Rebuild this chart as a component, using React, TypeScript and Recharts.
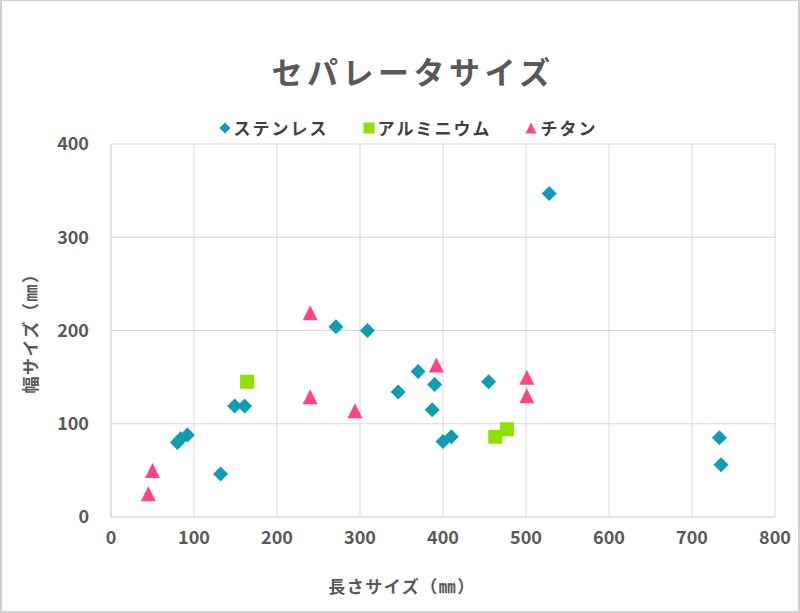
import React from "react";
import {
  ScatterChart,
  Scatter,
  XAxis,
  YAxis,
  CartesianGrid,
} from "recharts";

// ステンレス
const stainless = [
  { x: 80, y: 80 },
  { x: 84, y: 84 },
  { x: 92, y: 88 },
  { x: 132, y: 46 },
  { x: 149, y: 119 },
  { x: 161, y: 119 },
  { x: 271, y: 204 },
  { x: 309, y: 200 },
  { x: 346, y: 134 },
  { x: 370, y: 156 },
  { x: 387, y: 115 },
  { x: 390, y: 142 },
  { x: 400, y: 81 },
  { x: 410, y: 86 },
  { x: 455, y: 145 },
  { x: 528, y: 347 },
  { x: 733, y: 85 },
  { x: 735, y: 56 },
];

// アルミニウム
const aluminium = [
  { x: 164, y: 145 },
  { x: 463, y: 86 },
  { x: 477, y: 94 },
];

// チタン
const titanium = [
  { x: 45, y: 25 },
  { x: 50, y: 50 },
  { x: 240, y: 219 },
  { x: 240, y: 129 },
  { x: 294, y: 114 },
  { x: 392, y: 163 },
  { x: 501, y: 150 },
  { x: 501, y: 130 },
];

const xTicks = [0, 100, 200, 300, 400, 500, 600, 700, 800];
const yTicks = [0, 100, 200, 300, 400];

const TEAL = "#0f9db4";
const LIME = "#8fe000";
const PINK = "#fd4784";
const TEXT = "#595959";
const GRID = "#d9d9d9";
const FONT = '"Noto Sans CJK JP", "Noto Sans", sans-serif';

const diamond = (props: any) => {
  const { cx, cy } = props;
  const r = 7.5;
  return (
    <path
      d={`M${cx},${cy - r}L${cx + r},${cy}L${cx},${cy + r}L${cx - r},${cy}Z`}
      fill={TEAL}
    />
  );
};

const square = (props: any) => {
  const { cx, cy } = props;
  return <rect x={cx - 7} y={cy - 7} width={14} height={14} fill={LIME} />;
};

const triangle = (props: any) => {
  const { cx, cy } = props;
  return (
    <path
      d={`M${cx},${cy - 7.5}L${cx + 7.5},${cy + 7.5}L${cx - 7.5},${cy + 7.5}Z`}
      fill={PINK}
    />
  );
};

const legendItems = [
  { name: "ステンレス", icon: "diamond", color: TEAL },
  { name: "アルミニウム", icon: "square", color: LIME },
  { name: "チタン", icon: "triangle", color: PINK },
];

function LegendIcon({ icon, color }: { icon: string; color: string }) {
  return (
    <svg width={12} height={12} style={{ marginRight: 3 }}>
      {icon === "diamond" && <path d="M6,0.5L11.5,6L6,11.5L0.5,6Z" fill={color} />}
      {icon === "square" && <rect x={0.5} y={0.5} width={11} height={11} fill={color} />}
      {icon === "triangle" && <path d="M6,0.5L11.5,11.5L0.5,11.5Z" fill={color} />}
    </svg>
  );
}

export default function App() {
  return (
    <div
      style={{
        position: "absolute",
        left: 0,
        top: 0,
        width: 800,
        height: 613,
        boxSizing: "border-box",
        border: "2px solid #d0d0d0",
        borderTopWidth: 1,
        background: "#fff",
        fontFamily: FONT,
        overflow: "hidden",
      }}
    >
      <div
        style={{
          position: "absolute",
          left: 0,
          top: 0,
          width: 800,
          height: 613,
        }}
      >
        <ScatterChart
          width={800}
          height={613}
          margin={{ top: 143, right: 27, bottom: 67, left: 49 }}
        >
          <CartesianGrid stroke={GRID} strokeWidth={1} />
          <XAxis
            type="number"
            dataKey="x"
            domain={[0, 800]}
            ticks={xTicks}
            height={30}
            axisLine={{ stroke: GRID }}
            tickLine={false}
            tick={{ fill: TEXT, fontSize: 18, fontWeight: 600, fontFamily: FONT }}
            tickMargin={8}
          />
          <YAxis
            type="number"
            dataKey="y"
            domain={[0, 400]}
            ticks={yTicks}
            width={60}
            axisLine={{ stroke: GRID }}
            tickLine={false}
            tick={{ fill: TEXT, fontSize: 18, fontWeight: 600, fontFamily: FONT }}
            tickMargin={16}
          />
          <Scatter name="ステンレス" data={stainless} shape={diamond} isAnimationActive={false} />
          <Scatter name="アルミニウム" data={aluminium} shape={square} isAnimationActive={false} />
          <Scatter name="チタン" data={titanium} shape={triangle} isAnimationActive={false} />
        </ScatterChart>
      </div>

      <div
        style={{
          position: "absolute",
          left: 0,
          top: 48,
          width: 822,
          textAlign: "center",
          fontSize: 31,
          fontWeight: 600,
          letterSpacing: 4.5,
          color: TEXT,
          lineHeight: "44px",
        }}
      >
        セパレータサイズ
      </div>

      <div
        style={{
          position: "absolute",
          left: 0,
          top: 115,
          width: 812,
          display: "flex",
          justifyContent: "center",
          alignItems: "center",
          fontSize: 17,
          fontWeight: 600,
          letterSpacing: 2,
          color: "#404040",
          lineHeight: "24px",
        }}
      >
        {legendItems.map((it) => (
          <span
            key={it.name}
            style={{ display: "inline-flex", alignItems: "center", margin: "0 17px" }}
          >
            <LegendIcon icon={it.icon} color={it.color} />
            {it.name}
          </span>
        ))}
      </div>

      <div
        style={{
          position: "absolute",
          left: 0,
          top: 573,
          width: 800,
          textAlign: "center",
          fontSize: 17,
          fontWeight: 600,
          letterSpacing: 1.5,
          color: TEXT,
          lineHeight: "24px",
        }}
      >
        長さサイズ（㎜）
      </div>

      <div
        style={{
          position: "absolute",
          left: 28,
          top: 328,
          transform: "translate(-50%, -50%) rotate(-90deg)",
          whiteSpace: "nowrap",
          fontSize: 17,
          fontWeight: 600,
          letterSpacing: 1.5,
          color: TEXT,
          lineHeight: "24px",
        }}
      >
        幅サイズ（㎜）
      </div>
    </div>
  );
}
